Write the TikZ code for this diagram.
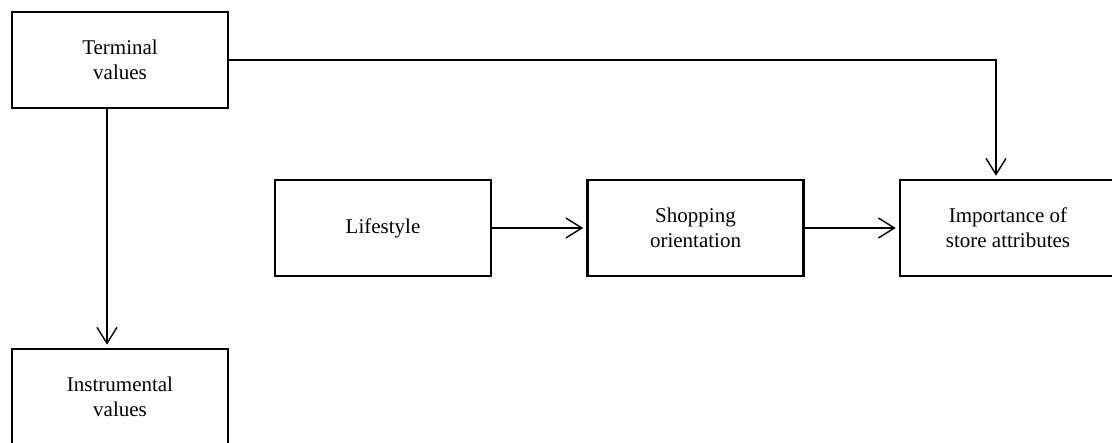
\documentclass[tikz,border=0pt]{standalone}
\usepackage{fontspec}
\setmainfont{Liberation Serif}
\usetikzlibrary{arrows.meta}
\begin{document}
\begin{tikzpicture}[x=1pt,y=-1pt,
  box/.style={draw=black,line width=2.6pt,minimum width=216pt,minimum height=96pt,
    inner sep=0pt,align=center,font=\fontsize{21pt}{25pt}\selectfont},
  conn/.style={line width=1.4pt,-{Straight Barb[length=16pt,width=20pt,line width=1.4pt]},
    shorten >=3pt}]
\useasboundingbox (0,0) rectangle (1112,443);
\clip (0,0) rectangle (1112,443);
\node[box] (term) at (120,60) {Terminal\\values};
\node[box] (instr) at (120,397) {Instrumental\\values};
\node[box] (life) at (383,228) {Lifestyle};
\node[box] (shop) at (695.5,228) {Shopping\\orientation};
\node[box] (imp) at (1008,228) {Importance of\\store attributes};
\draw[conn] ([xshift=-13pt]term.south) -- ([xshift=-13pt]instr.north);
\draw[conn] (term.east) -| ([xshift=-12pt]imp.north);
\draw[conn] (life.east) -- (shop.west);
\draw[conn] (shop.east) -- (imp.west);
\end{tikzpicture}
\end{document}
